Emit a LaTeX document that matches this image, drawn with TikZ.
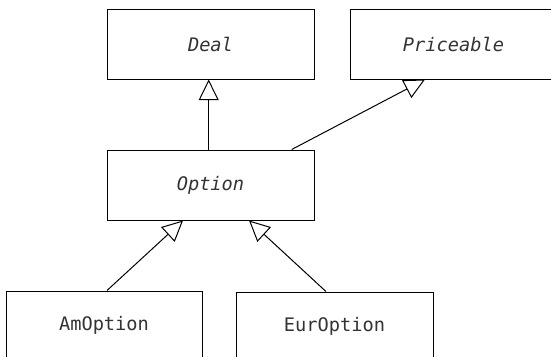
\documentclass[tikz,border=0pt]{standalone}
\usepackage{fontspec}
\setmonofont{DejaVu Sans Mono}
\usetikzlibrary{arrows.meta}
\begin{document}
\begin{tikzpicture}[x=0.75pt,y=-0.75pt,
  cls/.style={draw, line width=0.75pt, rectangle, inner sep=0pt, text=black!80,
    font=\ttfamily\fontsize{14pt}{16pt}\selectfont},
  gen/.style={draw, line width=0.75pt, -{Triangle[open, length=15.5pt, width=15pt]}}]
\useasboundingbox (0,0) rectangle (551,357);
\begin{scope}
\clip (0,0) rectangle (551,357);
\node[cls, minimum width=155.25pt, minimum height=52.5pt] (deal) at (210.5,44) {\itshape Deal};
\node[cls, minimum width=155.25pt, minimum height=52.5pt] (price) at (453.5,44) {\itshape Priceable};
\node[cls, minimum width=155.25pt, minimum height=52.5pt] (option) at (210.5,185) {\itshape Option};
\node[cls, minimum width=147pt, minimum height=51pt] (am) at (104,325) {AmOption};
\node[cls, minimum width=147.75pt, minimum height=51pt] (eur) at (334.5,326) {EurOption};
\draw[gen] ([xshift=-1.35pt]option.north) -- ([xshift=-1.35pt]deal.south);
\draw[gen] ([xshift=60.9pt]option.north) -- ([xshift=-21.4pt]price.south);
\draw[gen] ([xshift=2.25pt]am.north) -- ([xshift=-20.6pt]option.south);
\draw[gen] ([xshift=-6.4pt]eur.north) -- ([xshift=28.9pt]option.south);
\end{scope}
\end{tikzpicture}
\end{document}
